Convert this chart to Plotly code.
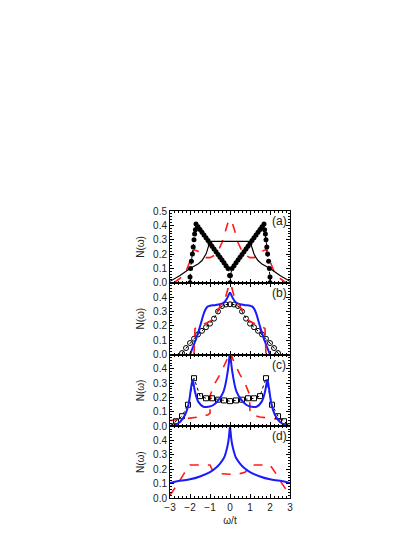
import plotly.graph_objects as go
from plotly.subplots import make_subplots

# panel (a)
a_dots_x = [-2.0, -2.0, -1.97, -1.93, -1.88, -1.84, -1.8, -1.77, -1.73, -1.7,
            -1.6, -1.5, -1.4, -1.3, -1.2, -1.1, -1.0, -0.9, -0.8, -0.7, -0.6,
            -0.5, -0.4, -0.3, -0.2, -0.1, -0.02, 0.0, 0.02, 0.1,
            0.2, 0.3, 0.4, 0.5, 0.6, 0.7, 0.8, 0.9, 1.0, 1.1, 1.2, 1.3, 1.4,
            1.5, 1.6, 1.7, 1.73, 1.77, 1.8, 1.84, 1.88, 1.93, 1.97, 2.0, 2.0]
a_dots_y = [0.0, 0.04, 0.1, 0.15, 0.2, 0.25, 0.3, 0.34, 0.37, 0.41,
            0.39, 0.371, 0.352, 0.332, 0.313, 0.294, 0.274, 0.255, 0.235, 0.216, 0.197,
            0.177, 0.158, 0.139, 0.119, 0.1, 0.05, 0.0, 0.05, 0.1,
            0.119, 0.139, 0.158, 0.177, 0.197, 0.216, 0.235, 0.255, 0.274, 0.294, 0.313, 0.332, 0.352,
            0.371, 0.39, 0.41, 0.37, 0.34, 0.3, 0.25, 0.2, 0.15, 0.1, 0.04, 0.0]
a_black_x = [-3.0, -2.5, -2.0, -1.8, -1.6, -1.4, -1.3, -1.2, -1.15, -1.1, -1.05, -1.0,
             1.0, 1.05, 1.1, 1.15, 1.2, 1.3, 1.4, 1.6, 1.8, 2.0, 2.5, 3.0]
a_black_y = [0.01, 0.05, 0.1, 0.115, 0.13, 0.155, 0.175, 0.2, 0.22, 0.24, 0.265, 0.288,
             0.288, 0.265, 0.24, 0.22, 0.2, 0.175, 0.155, 0.13, 0.115, 0.1, 0.05, 0.01]
a_red_x = [-2.8, -2.5, -2.2, -2.0, -1.9, -1.8, -1.6, -1.4, -1.2, -1.0, -0.8, -0.6,
           -0.4, -0.3, -0.2, -0.1, 0.0, 0.1, 0.2, 0.3, 0.4, 0.6, 0.8, 1.0, 1.2,
           1.4, 1.6, 1.8, 1.9, 2.0, 2.2, 2.5, 2.8]
a_red_y = [0.0, 0.03, 0.08, 0.15, 0.2, 0.23, 0.22, 0.19, 0.175, 0.175, 0.19, 0.22,
           0.28, 0.33, 0.38, 0.42, 0.44, 0.42, 0.38, 0.33, 0.28, 0.22, 0.19, 0.175, 0.175,
           0.19, 0.22, 0.23, 0.2, 0.15, 0.08, 0.03, 0.0]

# panel (b)
b_circ_x = [-2.4, -2.2, -2.0, -1.8, -1.6, -1.4, -1.2, -1.0, -0.8, -0.6, -0.4, -0.2, 0.0,
            0.2, 0.4, 0.6, 0.8, 1.0, 1.2, 1.4, 1.6, 1.8, 2.0, 2.2, 2.4]
b_circ_y = [0.01, 0.045, 0.08, 0.11, 0.14, 0.165, 0.19, 0.215, 0.25, 0.3, 0.338, 0.348, 0.35,
            0.348, 0.338, 0.3, 0.25, 0.215, 0.19, 0.165, 0.14, 0.11, 0.08, 0.045, 0.01]
b_blue_x = [-2.0, -1.8, -1.6, -1.45, -1.3, -1.2, -1.1, -1.0, -0.7, -0.4, -0.25, -0.15, -0.05, 0.0,
            0.05, 0.15, 0.25, 0.4, 0.7, 1.0, 1.1, 1.2, 1.3, 1.45, 1.6, 1.8, 2.0]
b_blue_y = [0.0, 0.07, 0.15, 0.22, 0.29, 0.32, 0.335, 0.34, 0.345, 0.355, 0.37, 0.39, 0.42, 0.43,
            0.42, 0.39, 0.37, 0.355, 0.345, 0.34, 0.335, 0.32, 0.29, 0.22, 0.15, 0.07, 0.0]
b_red_x = [-1.8, -1.77, -1.75, -1.6, -1.4, -1.2, -1.0, -0.8, -0.6, -0.4, -0.2, -0.1, -0.05, 0.0,
           0.05, 0.1, 0.2, 0.4, 0.6, 0.8, 1.0, 1.2, 1.4, 1.6, 1.75, 1.77, 1.8]
b_red_y = [0.0, 0.1, 0.18, 0.195, 0.205, 0.215, 0.23, 0.26, 0.31, 0.36, 0.41, 0.46, 0.52, 0.56,
           0.52, 0.46, 0.41, 0.36, 0.31, 0.26, 0.23, 0.215, 0.205, 0.195, 0.18, 0.1, 0.0]

# panel (c)
c_sq_x = [-3.0, -2.7, -2.4, -2.1, -1.8, -1.5, -1.2, -0.9, -0.6, -0.3, 0.0,
          0.3, 0.6, 0.9, 1.2, 1.5, 1.8, 2.1, 2.4, 2.7, 3.0]
c_sq_y = [0.0, 0.035, 0.07, 0.15, 0.335, 0.21, 0.195, 0.195, 0.185, 0.18, 0.175,
          0.18, 0.185, 0.195, 0.195, 0.21, 0.335, 0.15, 0.07, 0.035, 0.0]
c_blue_x = [-2.9, -2.5, -2.25, -2.08, -1.95, -1.87, -1.75, -1.58, -1.33, -1.08, -0.83, -0.58,
            -0.33, -0.17, -0.05, 0.0, 0.05, 0.17, 0.33, 0.58, 0.83, 1.08, 1.33, 1.58,
            1.75, 1.87, 1.95, 2.08, 2.25, 2.5, 2.9]
c_blue_y = [0.0, 0.03, 0.078, 0.148, 0.265, 0.322, 0.24, 0.17, 0.136, 0.136, 0.148, 0.182,
            0.24, 0.334, 0.45, 0.55, 0.45, 0.334, 0.24, 0.182, 0.148, 0.136, 0.136, 0.17,
            0.24, 0.322, 0.265, 0.148, 0.078, 0.03, 0.0]
c_red_x = [-3.0, -2.5, -2.0, -1.5, -1.1, -1.0, -0.98, -0.75, -0.5, -0.25, -0.1, 0.0,
           0.1, 0.25, 0.5, 0.75, 0.98, 1.0, 1.1, 1.5, 2.0, 2.5, 3.0]
c_red_y = [0.04, 0.05, 0.055, 0.065, 0.08, 0.09, 0.22, 0.3, 0.36, 0.43, 0.48, 0.52,
           0.48, 0.43, 0.36, 0.3, 0.22, 0.09, 0.08, 0.065, 0.055, 0.05, 0.04]

# panel (d)
d_blue_x = [-3.0, -2.5, -2.0, -1.5, -1.0, -0.7, -0.5, -0.3, -0.2, -0.1, -0.05, 0.0,
            0.05, 0.1, 0.2, 0.3, 0.5, 0.7, 1.0, 1.5, 2.0, 2.5, 3.0]
d_blue_y = [0.105, 0.12, 0.13, 0.15, 0.18, 0.21, 0.24, 0.28, 0.32, 0.38, 0.43, 0.5,
            0.43, 0.38, 0.32, 0.28, 0.24, 0.21, 0.18, 0.15, 0.13, 0.12, 0.105]
d_red_x = [-3.0, -2.6, -2.3, -2.0, -1.0, -0.9, -0.75, -0.5, 0.0, 0.5, 0.75, 0.9, 1.0,
           2.0, 2.3, 2.6, 3.0]
d_red_y = [0.02, 0.1, 0.17, 0.23, 0.23, 0.2, 0.18, 0.17, 0.165, 0.17, 0.18, 0.2, 0.23,
           0.23, 0.17, 0.1, 0.02]

panel_labels = ["(a)", "(b)", "(c)", "(d)"]

RED = "#ff1a1a"
BLUE = "#1a1aff"

fig = make_subplots(rows=4, cols=1, shared_xaxes=True, vertical_spacing=0)

def red(x, y, row):
    fig.add_trace(go.Scatter(x=x, y=y, mode="lines",
                             line=dict(color=RED, width=1.6, dash="dash")), row=row, col=1)

def blue(x, y, row):
    fig.add_trace(go.Scatter(x=x, y=y, mode="lines", line_shape="spline",
                             line=dict(color=BLUE, width=2)), row=row, col=1)

# (a)
red(a_red_x, a_red_y, 1)
fig.add_trace(go.Scatter(x=a_black_x, y=a_black_y, mode="lines",
                         line=dict(color="black", width=1.2)), row=1, col=1)
fig.add_trace(go.Scatter(x=a_dots_x, y=a_dots_y, mode="lines+markers",
                         line=dict(color="black", width=1, dash="dot"),
                         marker=dict(color="black", size=5)), row=1, col=1)
# (b)
fig.add_trace(go.Scatter(x=b_circ_x, y=b_circ_y, mode="lines+markers",
                         line=dict(color="black", width=1, dash="dot"),
                         marker=dict(symbol="circle-open", color="black", size=5,
                                     line=dict(width=1))), row=2, col=1)
blue(b_blue_x, b_blue_y, 2)
red(b_red_x, b_red_y, 2)
# (c)
red(c_red_x, c_red_y, 3)
fig.add_trace(go.Scatter(x=c_sq_x, y=c_sq_y, mode="lines+markers",
                         line=dict(color="black", width=1, dash="dot"),
                         marker=dict(symbol="square-open", color="black", size=5,
                                     line=dict(width=1))), row=3, col=1)
blue(c_blue_x, c_blue_y, 3)
# (d)
red(d_red_x, d_red_y, 4)
blue(d_blue_x, d_blue_y, 4)

font = dict(family="Liberation Sans, Arial, sans-serif", size=10, color="#222")

for i in range(1, 5):
    tv = [0.0, 0.1, 0.2, 0.3, 0.4, 0.5] if i == 1 else [0.0, 0.1, 0.2, 0.3, 0.4]
    fig.update_yaxes(range=[0, 0.5], tickvals=tv, tickformat=".1f",
                     ticks="inside", ticklen=4, tickcolor="black", mirror="allticks",
                     showline=True, linecolor="black", linewidth=1, showgrid=False,
                     zeroline=False, minor=dict(ticks="inside", dtick=0.02, ticklen=2,
                                                tickcolor="black", showgrid=False),
                     title=dict(text="N(ω)", standoff=6, font=font), tickfont=font,
                     row=i, col=1)
    fig.update_xaxes(range=[-3, 3], dtick=1, ticks="inside", ticklen=4,
                     tickcolor="black", mirror="allticks", showline=True,
                     linecolor="black", linewidth=1, showgrid=False, zeroline=False,
                     minor=dict(ticks="inside", dtick=0.2, ticklen=2,
                                tickcolor="black", showgrid=False),
                     tickfont=font, row=i, col=1)
    fig.add_annotation(x=2.45, y=0.43, text=panel_labels[i - 1], showarrow=False,
                       font=dict(family="Liberation Sans, Arial, sans-serif", size=12,
                                 color="#222"),
                       xref=f"x{i if i > 1 else ''}", yref=f"y{i if i > 1 else ''}")

fig.update_xaxes(title=dict(text="ω/t", standoff=4, font=font), row=4, col=1)

# page body has an 8px default margin, so the margins are shifted by that amount
fig.update_layout(width=420, height=543, showlegend=False,
                  margin=dict(l=162, r=138, t=203, b=53),
                  plot_bgcolor="white", paper_bgcolor="white")

fig.write_html("out.html")
